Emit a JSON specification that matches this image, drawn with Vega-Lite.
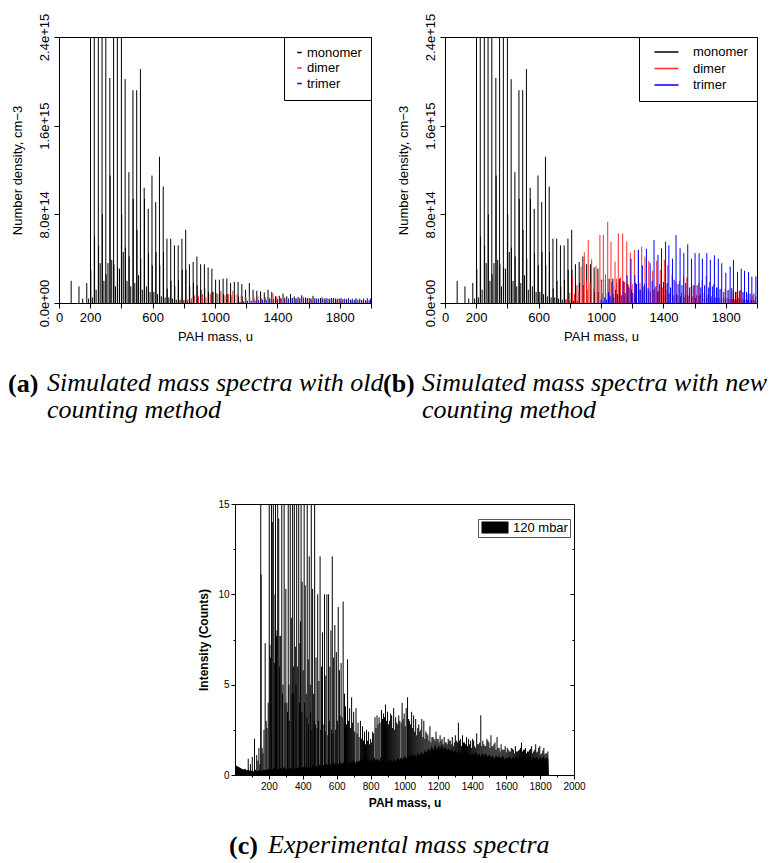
{
"$schema":"https://vega.github.io/schema/vega-lite/v6.json",
"background":"white",
"padding":{"left":7,"top":12,"right":0,"bottom":0},
"config":{"view":{"stroke":"black","strokeWidth":1},"font":"Liberation Sans",
"axis":{"grid":false,"domain":false,"tickColor":"black","labelColor":"black","titleColor":"black","labelFont":"Liberation Sans","titleFont":"Liberation Sans","tickWidth":1},
"legend":{"labelFont":"Liberation Sans","labelColor":"black"}},
"datasets":{
"mono":[{"m":78,"n":2.0e14},{"m":128,"n":1.5e14},{"m":152,"n":0.4e14},{"m":178,"n":1.8e14},{"m":190,"n":0.4e14},{"m":202,"n":40e14},{"m":204,"n":3.0e14},{"m":214,"n":0.5e14},{"m":226,"n":40e14},{"m":228,"n":6.0e14},{"m":238,"n":1.2e14},{"m":252,"n":40e14},{"m":254,"n":5.2e14},{"m":264,"n":3.6e14},{"m":276,"n":40e14},{"m":278,"n":8.0e14},{"m":288,"n":2.0e14},{"m":300,"n":40e14},{"m":302,"n":2.6e14},{"m":314,"n":3.6e14},{"m":326,"n":20.3e14},{"m":328,"n":11.5e14},{"m":338,"n":3.9e14},{"m":350,"n":40e14},{"m":352,"n":3.5e14},{"m":362,"n":1.5e14},{"m":374,"n":40e14},{"m":376,"n":3.2e14},{"m":388,"n":3.1e14},{"m":400,"n":40e14},{"m":402,"n":8.0e14},{"m":412,"n":4.6e14},{"m":424,"n":20.2e14},{"m":426,"n":5.0e14},{"m":436,"n":2.0e14},{"m":448,"n":11.8e14},{"m":450,"n":4.2e14},{"m":460,"n":1.5e14},{"m":474,"n":19.2e14},{"m":476,"n":9.4e14},{"m":486,"n":1.8e14},{"m":498,"n":19.2e14},{"m":500,"n":6.6e14},{"m":510,"n":2.5e14},{"m":522,"n":21.1e14},{"m":524,"n":4.0e14},{"m":534,"n":1.2e14},{"m":546,"n":10.4e14},{"m":548,"n":9.4e14},{"m":560,"n":1.5e14},{"m":572,"n":8.5e14},{"m":574,"n":4.5e14},{"m":584,"n":1.0e14},{"m":596,"n":11.5e14},{"m":598,"n":3.4e14},{"m":608,"n":1.0e14},{"m":620,"n":9.1e14},{"m":622,"n":4.6e14},{"m":632,"n":0.8e14},{"m":644,"n":13.2e14},{"m":646,"n":3.4e14},{"m":656,"n":0.6e14},{"m":668,"n":10.5e14},{"m":670,"n":4.6e14},{"m":680,"n":0.5e14},{"m":692,"n":5.8e14},{"m":694,"n":1.3e14},{"m":704,"n":0.5e14},{"m":716,"n":5.8e14},{"m":718,"n":2.0e14},{"m":728,"n":0.4e14},{"m":740,"n":5.2e14},{"m":742,"n":1.5e14},{"m":752,"n":0.3e14},{"m":764,"n":5.2e14},{"m":766,"n":2.1e14},{"m":776,"n":0.3e14},{"m":788,"n":5.8e14},{"m":790,"n":3.0e14},{"m":800,"n":0.25e14},{"m":812,"n":6.6e14},{"m":814,"n":3.0e14},{"m":824,"n":0.2e14},{"m":836,"n":3.5e14},{"m":838,"n":1.5e14},{"m":848,"n":0.2e14},{"m":860,"n":3.7e14},{"m":862,"n":1.8e14},{"m":884,"n":4.2e14},{"m":886,"n":1.6e14},{"m":908,"n":3.5e14},{"m":910,"n":1.2e14},{"m":932,"n":3.5e14},{"m":934,"n":1.3e14},{"m":956,"n":3.2e14},{"m":958,"n":1.0e14},{"m":980,"n":3.1e14},{"m":982,"n":1.0e14},{"m":1004,"n":2.1e14},{"m":1006,"n":0.9e14},{"m":1028,"n":2.1e14},{"m":1030,"n":0.9e14},{"m":1052,"n":2.2e14},{"m":1054,"n":0.8e14},{"m":1076,"n":2.2e14},{"m":1078,"n":0.8e14},{"m":1100,"n":1.8e14},{"m":1102,"n":0.7e14},{"m":1124,"n":1.9e14},{"m":1126,"n":0.7e14},{"m":1148,"n":1.9e14},{"m":1150,"n":0.6e14},{"m":1172,"n":1.7e14},{"m":1174,"n":0.6e14},{"m":1196,"n":1.2e14},{"m":1198,"n":0.5e14},{"m":1220,"n":1.8e14},{"m":1222,"n":0.5e14},{"m":1244,"n":1.2e14},{"m":1268,"n":1.1e14},{"m":1292,"n":1.05e14},{"m":1316,"n":0.95e14},{"m":1340,"n":1.2e14},{"m":1364,"n":1.0e14},{"m":1388,"n":0.6e14},{"m":1412,"n":0.65e14},{"m":1436,"n":0.85e14},{"m":1460,"n":0.6e14},{"m":1484,"n":0.8e14},{"m":1508,"n":0.6e14},{"m":1532,"n":0.55e14},{"m":1556,"n":0.7e14},{"m":1580,"n":0.5e14},{"m":1604,"n":0.45e14},{"m":1628,"n":0.65e14},{"m":1652,"n":0.4e14},{"m":1676,"n":0.45e14},{"m":1700,"n":0.4e14},{"m":1724,"n":0.4e14},{"m":1748,"n":0.45e14},{"m":1772,"n":0.4e14},{"m":1796,"n":0.4e14},{"m":1820,"n":0.35e14},{"m":1844,"n":0.35e14},{"m":1868,"n":0.3e14},{"m":1892,"n":0.3e14},{"m":1916,"n":0.3e14},{"m":1940,"n":0.28e14},{"m":1964,"n":0.25e14},{"m":1988,"n":0.25e14}],
"dimA":[{"m":776,"n":0.15e14},{"m":800,"n":0.27e14},{"m":826,"n":0.35e14},{"m":848,"n":0.45e14},{"m":869,"n":0.7e14},{"m":894,"n":0.6e14},{"m":920,"n":0.8e14},{"m":942,"n":0.5e14},{"m":970,"n":0.8e14},{"m":991,"n":1.0e14},{"m":1017,"n":0.8e14},{"m":1038,"n":1.1e14},{"m":1064,"n":0.7e14},{"m":1088,"n":0.8e14},{"m":1114,"n":1.1e14},{"m":1142,"n":0.8e14},{"m":1168,"n":0.7e14},{"m":1194,"n":0.55e14},{"m":1222,"n":0.6e14},{"m":1250,"n":0.5e14},{"m":1275,"n":0.6e14},{"m":1297,"n":0.45e14},{"m":1322,"n":0.55e14},{"m":1350,"n":0.5e14},{"m":1372,"n":0.85e14},{"m":1396,"n":0.6e14},{"m":1420,"n":0.45e14},{"m":1446,"n":0.5e14},{"m":1470,"n":0.4e14},{"m":1494,"n":0.45e14},{"m":1518,"n":0.4e14},{"m":1542,"n":0.35e14},{"m":1566,"n":0.55e14},{"m":1590,"n":0.35e14},{"m":1614,"n":0.35e14},{"m":1638,"n":0.3e14},{"m":1662,"n":0.35e14},{"m":1686,"n":0.55e14},{"m":1710,"n":0.3e14},{"m":1734,"n":0.3e14},{"m":1758,"n":0.3e14},{"m":1782,"n":0.25e14},{"m":1806,"n":0.3e14},{"m":1830,"n":0.25e14},{"m":1854,"n":0.25e14},{"m":1878,"n":0.2e14},{"m":1902,"n":0.25e14},{"m":1926,"n":0.2e14},{"m":1950,"n":0.2e14},{"m":1974,"n":0.2e14}],
"triA":[{"m":1160,"n":0.1e14},{"m":1184,"n":0.15e14},{"m":1208,"n":0.2e14},{"m":1232,"n":0.2e14},{"m":1256,"n":0.25e14},{"m":1280,"n":0.25e14},{"m":1304,"n":0.3e14},{"m":1328,"n":0.3e14},{"m":1352,"n":0.35e14},{"m":1376,"n":0.35e14},{"m":1400,"n":0.35e14},{"m":1424,"n":0.4e14},{"m":1448,"n":0.4e14},{"m":1472,"n":0.4e14},{"m":1496,"n":0.45e14},{"m":1520,"n":0.4e14},{"m":1544,"n":0.45e14},{"m":1568,"n":0.4e14},{"m":1592,"n":0.45e14},{"m":1616,"n":0.4e14},{"m":1640,"n":0.45e14},{"m":1664,"n":0.4e14},{"m":1688,"n":0.4e14},{"m":1712,"n":0.45e14},{"m":1736,"n":0.4e14},{"m":1760,"n":0.45e14},{"m":1784,"n":0.4e14},{"m":1808,"n":0.45e14},{"m":1832,"n":0.4e14},{"m":1856,"n":0.45e14},{"m":1880,"n":0.4e14},{"m":1904,"n":0.45e14},{"m":1928,"n":0.4e14},{"m":1952,"n":0.4e14},{"m":1976,"n":0.45e14},{"m":1996,"n":0.4e14}],
"dimB":[{"m":776,"n":0.36e14},{"m":788,"n":0.3e14},{"m":800,"n":0.9e14},{"m":818,"n":2.37e14},{"m":830,"n":0.8e14},{"m":846,"n":1.6e14},{"m":858,"n":1.0e14},{"m":872,"n":3.28e14},{"m":884,"n":1.5e14},{"m":893,"n":4.57e14},{"m":906,"n":2.0e14},{"m":918,"n":5.68e14},{"m":930,"n":1.8e14},{"m":940,"n":3.94e14},{"m":954,"n":1.3e14},{"m":968,"n":3.34e14},{"m":980,"n":2.2e14},{"m":993,"n":6.13e14},{"m":1003,"n":2.0e14},{"m":1015,"n":6.13e14},{"m":1029,"n":2.6e14},{"m":1043,"n":7.33e14},{"m":1053,"n":2.0e14},{"m":1064,"n":5.53e14},{"m":1077,"n":1.5e14},{"m":1090,"n":3.73e14},{"m":1100,"n":2.2e14},{"m":1111,"n":6.29e14},{"m":1125,"n":2.3e14},{"m":1139,"n":6.29e14},{"m":1152,"n":1.9e14},{"m":1165,"n":5.53e14},{"m":1176,"n":1.6e14},{"m":1188,"n":4.54e14},{"m":1200,"n":1.7e14},{"m":1214,"n":4.78e14},{"m":1226,"n":1.7e14},{"m":1239,"n":4.78e14},{"m":1250,"n":1.8e14},{"m":1261,"n":5.08e14},{"m":1271,"n":1.5e14},{"m":1282,"n":4.18e14},{"m":1294,"n":1.4e14},{"m":1306,"n":3.8e14},{"m":1318,"n":1.1e14},{"m":1331,"n":2.9e14},{"m":1344,"n":1.3e14},{"m":1357,"n":3.8e14},{"m":1368,"n":1.1e14},{"m":1380,"n":3.0e14},{"m":1393,"n":1.4e14},{"m":1406,"n":3.9e14},{"m":1417,"n":1.2e14},{"m":1428,"n":3.4e14},{"m":1442,"n":0.9e14},{"m":1456,"n":2.6e14},{"m":1468,"n":0.7e14},{"m":1481,"n":1.9e14},{"m":1492,"n":0.7e14},{"m":1503,"n":2.0e14},{"m":1516,"n":0.9e14},{"m":1529,"n":2.4e14},{"m":1540,"n":0.8e14},{"m":1550,"n":2.3e14},{"m":1564,"n":0.6e14},{"m":1578,"n":1.5e14},{"m":1588,"n":0.6e14},{"m":1599,"n":1.6e14},{"m":1612,"n":0.7e14},{"m":1627,"n":1.8e14},{"m":1637,"n":0.8e14},{"m":1648,"n":2.1e14},{"m":1661,"n":0.9e14},{"m":1674,"n":2.4e14},{"m":1685,"n":0.7e14},{"m":1696,"n":1.9e14},{"m":1709,"n":0.6e14},{"m":1722,"n":1.7e14},{"m":1733,"n":0.5e14},{"m":1745,"n":1.4e14},{"m":1758,"n":0.5e14},{"m":1771,"n":1.3e14},{"m":1784,"n":0.5e14},{"m":1797,"n":1.3e14},{"m":1808,"n":0.45e14},{"m":1820,"n":1.2e14},{"m":1833,"n":0.4e14},{"m":1846,"n":1.1e14},{"m":1856,"n":0.35e14},{"m":1867,"n":1.0e14},{"m":1881,"n":0.45e14},{"m":1895,"n":1.2e14},{"m":1905,"n":0.35e14},{"m":1916,"n":0.9e14},{"m":1929,"n":0.3e14},{"m":1942,"n":0.8e14},{"m":1956,"n":0.25e14},{"m":1970,"n":0.7e14},{"m":1980,"n":0.25e14},{"m":1991,"n":0.6e14}],
"triB":[{"m":1000,"n":0.3e14},{"m":1012,"n":0.1e14},{"m":1024,"n":0.5e14},{"m":1036,"n":0.3e14},{"m":1048,"n":1.0e14},{"m":1059,"n":0.6e14},{"m":1070,"n":1.9e14},{"m":1082,"n":0.5e14},{"m":1094,"n":1.2e14},{"m":1106,"n":0.8e14},{"m":1118,"n":2.2e14},{"m":1130,"n":0.7e14},{"m":1142,"n":2.0e14},{"m":1155,"n":0.9e14},{"m":1167,"n":2.5e14},{"m":1180,"n":1.4e14},{"m":1192,"n":4.0e14},{"m":1204,"n":0.9e14},{"m":1217,"n":2.5e14},{"m":1228,"n":1.7e14},{"m":1240,"n":4.8e14},{"m":1252,"n":1.2e14},{"m":1265,"n":3.4e14},{"m":1278,"n":1.7e14},{"m":1291,"n":4.9e14},{"m":1303,"n":1.3e14},{"m":1315,"n":3.6e14},{"m":1328,"n":2.0e14},{"m":1340,"n":5.68e14},{"m":1352,"n":1.5e14},{"m":1365,"n":4.33e14},{"m":1376,"n":1.7e14},{"m":1388,"n":4.93e14},{"m":1401,"n":1.9e14},{"m":1414,"n":5.53e14},{"m":1424,"n":1.8e14},{"m":1435,"n":5.2e14},{"m":1446,"n":1.4e14},{"m":1458,"n":4.0e14},{"m":1469,"n":2.1e14},{"m":1481,"n":6.13e14},{"m":1494,"n":1.7e14},{"m":1507,"n":4.93e14},{"m":1519,"n":1.6e14},{"m":1531,"n":4.5e14},{"m":1543,"n":1.8e14},{"m":1556,"n":5.3e14},{"m":1568,"n":1.4e14},{"m":1580,"n":4.0e14},{"m":1591,"n":1.6e14},{"m":1603,"n":4.5e14},{"m":1616,"n":1.6e14},{"m":1629,"n":4.5e14},{"m":1640,"n":1.4e14},{"m":1650,"n":4.0e14},{"m":1664,"n":1.6e14},{"m":1678,"n":4.5e14},{"m":1690,"n":1.4e14},{"m":1701,"n":3.9e14},{"m":1714,"n":1.5e14},{"m":1727,"n":4.3e14},{"m":1740,"n":1.4e14},{"m":1752,"n":4.0e14},{"m":1763,"n":1.25e14},{"m":1774,"n":3.58e14},{"m":1787,"n":1.0e14},{"m":1800,"n":2.73e14},{"m":1814,"n":1.15e14},{"m":1828,"n":3.3e14},{"m":1838,"n":1.35e14},{"m":1849,"n":3.9e14},{"m":1862,"n":1.0e14},{"m":1875,"n":2.8e14},{"m":1887,"n":1.1e14},{"m":1899,"n":3.1e14},{"m":1910,"n":1.0e14},{"m":1920,"n":2.9e14},{"m":1933,"n":1.0e14},{"m":1946,"n":2.8e14},{"m":1956,"n":0.85e14},{"m":1967,"n":2.37e14},{"m":1980,"n":0.85e14},{"m":1993,"n":2.4e14}],
"floorC":[{"m":4,"v":0.55},{"m":10,"v":0.5},{"m":20,"v":0.45},{"m":30,"v":0.4},{"m":40,"v":0.35},{"m":50,"v":0.3},{"m":60,"v":0.35},{"m":70,"v":0.25},{"m":80,"v":0.3},{"m":90,"v":0.2},{"m":100,"v":0.25},{"m":110,"v":0.2},{"m":120,"v":0.3},{"m":130,"v":0.2},{"m":140,"v":0.25},{"m":150,"v":0.3},{"m":160,"v":0.2},{"m":170,"v":0.3},{"m":180,"v":0.25},{"m":190,"v":0.3},{"m":200,"v":0.35},{"m":210,"v":0.25},{"m":220,"v":0.3},{"m":230,"v":0.4},{"m":240,"v":0.3},{"m":250,"v":0.35},{"m":260,"v":0.3},{"m":270,"v":0.4},{"m":280,"v":0.3},{"m":290,"v":0.45},{"m":300,"v":0.35},{"m":310,"v":0.3},{"m":320,"v":0.4},{"m":330,"v":0.35},{"m":340,"v":0.45},{"m":350,"v":0.3},{"m":360,"v":0.4},{"m":370,"v":0.35},{"m":380,"v":0.5},{"m":390,"v":0.35},{"m":400,"v":0.45},{"m":410,"v":0.4},{"m":420,"v":0.5},{"m":430,"v":0.35},{"m":440,"v":0.45},{"m":450,"v":0.4},{"m":460,"v":0.55},{"m":470,"v":0.4},{"m":480,"v":0.5},{"m":490,"v":0.45},{"m":500,"v":0.6},{"m":510,"v":0.45},{"m":520,"v":0.55},{"m":530,"v":0.5},{"m":540,"v":0.65},{"m":550,"v":0.5},{"m":560,"v":0.6},{"m":570,"v":0.55},{"m":580,"v":0.7},{"m":590,"v":0.55},{"m":600,"v":0.65},{"m":610,"v":0.6},{"m":620,"v":0.75},{"m":630,"v":0.6},{"m":640,"v":0.7},{"m":650,"v":0.65},{"m":660,"v":0.8},{"m":670,"v":0.6},{"m":680,"v":0.75},{"m":690,"v":0.7},{"m":700,"v":0.85},{"m":710,"v":0.65},{"m":720,"v":0.8},{"m":730,"v":0.7},{"m":740,"v":0.9},{"m":750,"v":0.7},{"m":760,"v":0.85},{"m":770,"v":0.75},{"m":780,"v":0.95},{"m":790,"v":0.7},{"m":800,"v":0.9},{"m":810,"v":0.75},{"m":820,"v":1.0},{"m":830,"v":0.8},{"m":840,"v":0.9},{"m":850,"v":0.75},{"m":860,"v":1.0},{"m":870,"v":0.8},{"m":880,"v":0.95},{"m":890,"v":0.7},{"m":900,"v":0.9},{"m":910,"v":0.75},{"m":920,"v":0.85},{"m":930,"v":0.7},{"m":940,"v":0.9},{"m":950,"v":0.75},{"m":960,"v":0.95},{"m":970,"v":0.8},{"m":980,"v":1.0},{"m":990,"v":0.85},{"m":1000,"v":1.05},{"m":1010,"v":0.9},{"m":1020,"v":1.1},{"m":1030,"v":0.95},{"m":1040,"v":1.2},{"m":1050,"v":1.0},{"m":1060,"v":1.15},{"m":1070,"v":1.0},{"m":1080,"v":1.25},{"m":1090,"v":1.05},{"m":1100,"v":1.3},{"m":1110,"v":1.1},{"m":1120,"v":1.4},{"m":1130,"v":1.2},{"m":1140,"v":1.5},{"m":1150,"v":1.3},{"m":1160,"v":1.6},{"m":1170,"v":1.35},{"m":1180,"v":1.7},{"m":1190,"v":1.4},{"m":1200,"v":1.65},{"m":1210,"v":1.45},{"m":1220,"v":1.7},{"m":1230,"v":1.4},{"m":1240,"v":1.6},{"m":1250,"v":1.35},{"m":1260,"v":1.5},{"m":1270,"v":1.3},{"m":1280,"v":1.45},{"m":1290,"v":1.25},{"m":1300,"v":1.4},{"m":1310,"v":1.2},{"m":1320,"v":1.35},{"m":1330,"v":1.15},{"m":1340,"v":1.3},{"m":1350,"v":1.1},{"m":1360,"v":1.25},{"m":1370,"v":1.1},{"m":1380,"v":1.3},{"m":1390,"v":1.05},{"m":1400,"v":1.25},{"m":1410,"v":1.1},{"m":1420,"v":1.3},{"m":1430,"v":1.05},{"m":1440,"v":1.2},{"m":1450,"v":1.0},{"m":1460,"v":1.25},{"m":1470,"v":1.05},{"m":1480,"v":1.2},{"m":1490,"v":1.0},{"m":1500,"v":1.15},{"m":1510,"v":0.95},{"m":1520,"v":1.1},{"m":1530,"v":0.9},{"m":1540,"v":1.1},{"m":1550,"v":0.95},{"m":1560,"v":1.05},{"m":1570,"v":0.9},{"m":1580,"v":1.1},{"m":1590,"v":0.85},{"m":1600,"v":1.0},{"m":1610,"v":0.9},{"m":1620,"v":1.05},{"m":1630,"v":0.85},{"m":1640,"v":1.0},{"m":1650,"v":0.9},{"m":1660,"v":1.1},{"m":1670,"v":0.85},{"m":1680,"v":1.05},{"m":1690,"v":0.9},{"m":1700,"v":1.1},{"m":1710,"v":0.85},{"m":1720,"v":1.0},{"m":1730,"v":0.9},{"m":1740,"v":1.05},{"m":1750,"v":0.85},{"m":1760,"v":1.0},{"m":1770,"v":0.9},{"m":1780,"v":1.05},{"m":1790,"v":0.85},{"m":1800,"v":1.0},{"m":1810,"v":0.9},{"m":1820,"v":1.05},{"m":1830,"v":0.85},{"m":1840,"v":1.0},{"m":1848,"v":0.9},{"m":1852,"v":0.0}],
"peaksC":[{"m":78,"v":0.9},{"m":91,"v":0.6},{"m":102,"v":1.0},{"m":115,"v":2.0},{"m":128,"v":1.1},{"m":135,"v":0.8},{"m":141,"v":1.5},{"m":147,"v":0.6},{"m":152,"v":18},{"m":154,"v":11.1},{"m":160,"v":1.5},{"m":165,"v":1.2},{"m":171,"v":2.5},{"m":178,"v":7.3},{"m":184,"v":3.0},{"m":189,"v":2.6},{"m":196,"v":4.0},{"m":202,"v":18},{"m":206,"v":7.2},{"m":210,"v":6.5},{"m":215,"v":18},{"m":220,"v":14.0},{"m":226,"v":18},{"m":232,"v":6.2},{"m":236,"v":10.0},{"m":239,"v":18},{"m":245,"v":7.7},{"m":248,"v":8.0},{"m":252,"v":18},{"m":258,"v":14.2},{"m":262,"v":6.0},{"m":265,"v":7.7},{"m":270,"v":7.7},{"m":276,"v":18},{"m":280,"v":4.5},{"m":283,"v":5.0},{"m":290,"v":18},{"m":295,"v":4.0},{"m":300,"v":10.3},{"m":306,"v":4.0},{"m":310,"v":3.5},{"m":314,"v":18},{"m":318,"v":5.0},{"m":320,"v":3.0},{"m":326,"v":18},{"m":332,"v":8.7},{"m":336,"v":4.5},{"m":340,"v":18},{"m":344,"v":6.0},{"m":346,"v":4.5},{"m":350,"v":18},{"m":356,"v":7.1},{"m":360,"v":5.0},{"m":364,"v":18},{"m":370,"v":6.0},{"m":376,"v":18},{"m":380,"v":4.0},{"m":383,"v":7.3},{"m":386,"v":8.5},{"m":390,"v":18},{"m":394,"v":3.5},{"m":396,"v":10.7},{"m":402,"v":5.8},{"m":408,"v":18},{"m":411,"v":4.0},{"m":414,"v":10.5},{"m":420,"v":4.5},{"m":424,"v":3.2},{"m":426,"v":18},{"m":432,"v":6.4},{"m":434,"v":2.8},{"m":438,"v":12.1},{"m":444,"v":5.0},{"m":446,"v":3.5},{"m":450,"v":18},{"m":454,"v":2.5},{"m":458,"v":10.3},{"m":464,"v":4.5},{"m":468,"v":3.0},{"m":470,"v":18},{"m":474,"v":2.8},{"m":478,"v":6.5},{"m":484,"v":2.6},{"m":488,"v":10.0},{"m":492,"v":3.0},{"m":495,"v":5.2},{"m":502,"v":12.1},{"m":506,"v":2.5},{"m":510,"v":6.0},{"m":516,"v":7.9},{"m":520,"v":2.8},{"m":528,"v":10.0},{"m":532,"v":2.4},{"m":536,"v":5.5},{"m":542,"v":10.0},{"m":548,"v":2.2},{"m":552,"v":10.0},{"m":556,"v":3.0},{"m":560,"v":6.0},{"m":566,"v":8.0},{"m":570,"v":2.5},{"m":574,"v":12.1},{"m":578,"v":2.3},{"m":582,"v":6.5},{"m":589,"v":8.3},{"m":594,"v":2.5},{"m":598,"v":6.8},{"m":604,"v":3.0},{"m":609,"v":9.3},{"m":616,"v":5.8},{"m":620,"v":3.3},{"m":626,"v":6.2},{"m":632,"v":3.2},{"m":638,"v":9.6},{"m":644,"v":3.0},{"m":646,"v":4.5},{"m":652,"v":3.8},{"m":658,"v":2.8},{"m":664,"v":6.4},{"m":670,"v":3.0},{"m":676,"v":3.7},{"m":682,"v":2.6},{"m":688,"v":4.3},{"m":694,"v":2.9},{"m":700,"v":3.5},{"m":706,"v":2.4},{"m":714,"v":3.7},{"m":720,"v":2.3},{"m":726,"v":2.9},{"m":732,"v":2.1},{"m":740,"v":3.0},{"m":746,"v":2.0},{"m":752,"v":2.7},{"m":758,"v":1.9},{"m":764,"v":2.4},{"m":770,"v":1.7},{"m":776,"v":2.5},{"m":782,"v":1.9},{"m":788,"v":2.4},{"m":794,"v":1.7},{"m":800,"v":2.0},{"m":806,"v":1.8},{"m":812,"v":2.4},{"m":818,"v":2.3},{"m":826,"v":3.2},{"m":832,"v":2.6},{"m":838,"v":3.3},{"m":844,"v":2.8},{"m":850,"v":3.2},{"m":856,"v":2.9},{"m":864,"v":3.6},{"m":870,"v":3.1},{"m":876,"v":3.4},{"m":882,"v":3.2},{"m":888,"v":3.9},{"m":894,"v":3.0},{"m":900,"v":3.5},{"m":906,"v":2.8},{"m":912,"v":3.0},{"m":918,"v":3.4},{"m":924,"v":3.3},{"m":930,"v":2.6},{"m":936,"v":3.7},{"m":942,"v":2.5},{"m":948,"v":3.2},{"m":954,"v":2.9},{"m":960,"v":2.8},{"m":966,"v":3.3},{"m":972,"v":3.0},{"m":980,"v":2.9},{"m":986,"v":4.0},{"m":992,"v":3.1},{"m":998,"v":3.4},{"m":1004,"v":2.7},{"m":1010,"v":3.7},{"m":1018,"v":4.3},{"m":1024,"v":3.1},{"m":1030,"v":3.0},{"m":1036,"v":2.8},{"m":1042,"v":3.5},{"m":1048,"v":2.6},{"m":1054,"v":3.3},{"m":1060,"v":2.4},{"m":1066,"v":3.1},{"m":1072,"v":2.2},{"m":1078,"v":2.6},{"m":1084,"v":2.8},{"m":1090,"v":2.4},{"m":1096,"v":2.5},{"m":1102,"v":3.1},{"m":1108,"v":2.1},{"m":1114,"v":3.0},{"m":1120,"v":2.0},{"m":1126,"v":2.4},{"m":1132,"v":2.3},{"m":1138,"v":2.2},{"m":1144,"v":1.9},{"m":1150,"v":2.7},{"m":1156,"v":1.8},{"m":1162,"v":2.1},{"m":1168,"v":2.1},{"m":1174,"v":2.0},{"m":1180,"v":1.9},{"m":1186,"v":2.4},{"m":1192,"v":2.0},{"m":1198,"v":2.0},{"m":1204,"v":1.8},{"m":1210,"v":2.2},{"m":1216,"v":1.9},{"m":1222,"v":2.0},{"m":1228,"v":1.7},{"m":1234,"v":2.1},{"m":1240,"v":1.8},{"m":1246,"v":1.8},{"m":1252,"v":1.7},{"m":1258,"v":2.0},{"m":1264,"v":1.9},{"m":1270,"v":1.9},{"m":1276,"v":1.7},{"m":1282,"v":2.1},{"m":1288,"v":1.6},{"m":1294,"v":1.8},{"m":1300,"v":2.2},{"m":1306,"v":1.9},{"m":1312,"v":1.8},{"m":1318,"v":2.9},{"m":1324,"v":1.9},{"m":1330,"v":2.0},{"m":1336,"v":1.6},{"m":1342,"v":2.2},{"m":1348,"v":1.8},{"m":1354,"v":1.8},{"m":1360,"v":1.7},{"m":1366,"v":2.1},{"m":1372,"v":1.6},{"m":1378,"v":2.0},{"m":1384,"v":1.7},{"m":1390,"v":1.9},{"m":1396,"v":1.5},{"m":1402,"v":2.0},{"m":1408,"v":1.9},{"m":1414,"v":1.6},{"m":1420,"v":1.5},{"m":1426,"v":2.3},{"m":1432,"v":1.7},{"m":1438,"v":1.7},{"m":1444,"v":1.8},{"m":1450,"v":3.3},{"m":1456,"v":1.6},{"m":1462,"v":1.9},{"m":1468,"v":1.7},{"m":1474,"v":1.6},{"m":1480,"v":1.6},{"m":1486,"v":2.0},{"m":1492,"v":1.9},{"m":1498,"v":1.8},{"m":1504,"v":1.5},{"m":1510,"v":2.2},{"m":1516,"v":1.6},{"m":1522,"v":1.6},{"m":1528,"v":1.7},{"m":1534,"v":1.8},{"m":1540,"v":1.4},{"m":1546,"v":2.1},{"m":1552,"v":1.5},{"m":1558,"v":1.5},{"m":1564,"v":1.3},{"m":1570,"v":1.7},{"m":1576,"v":1.4},{"m":1582,"v":1.4},{"m":1588,"v":1.4},{"m":1594,"v":1.6},{"m":1600,"v":1.25},{"m":1606,"v":1.5},{"m":1612,"v":1.4},{"m":1618,"v":1.3},{"m":1624,"v":1.3},{"m":1630,"v":1.5},{"m":1636,"v":1.45},{"m":1642,"v":1.4},{"m":1648,"v":1.2},{"m":1654,"v":1.6},{"m":1660,"v":1.3},{"m":1666,"v":1.3},{"m":1672,"v":1.35},{"m":1678,"v":1.4},{"m":1684,"v":1.5},{"m":1690,"v":1.8},{"m":1696,"v":1.3},{"m":1702,"v":1.4},{"m":1708,"v":1.4},{"m":1714,"v":1.5},{"m":1720,"v":1.2},{"m":1726,"v":1.3},{"m":1732,"v":1.3},{"m":1738,"v":1.4},{"m":1744,"v":1.45},{"m":1750,"v":1.6},{"m":1756,"v":1.2},{"m":1762,"v":1.3},{"m":1768,"v":1.4},{"m":1774,"v":1.7},{"m":1780,"v":1.25},{"m":1786,"v":1.3},{"m":1792,"v":1.5},{"m":1798,"v":1.6},{"m":1804,"v":1.15},{"m":1810,"v":1.2},{"m":1816,"v":1.35},{"m":1822,"v":1.5},{"m":1828,"v":1.15},{"m":1834,"v":1.2},{"m":1840,"v":1.2},{"m":1846,"v":1.3}]
},
"resolve":{"scale":{"color":"independent"},"legend":{"color":"independent"}},
"spacing":74,
"vconcat":[
{"hconcat":[
{"width":312,"height":266,
"title":{"text":"(a)","subtitle":["\u200b\u00a0\u00a0\u00a0\u00a0\u00a0\u00a0Simulated mass spectra with old","\u200b\u00a0\u00a0\u00a0\u00a0\u00a0\u00a0counting method"],"orient":"bottom","anchor":"start","frame":"group","dx":-51,"offset":28,"limit":1000,"font":"Liberation Serif","fontSize":26,"fontWeight":"bold","fontStyle":"normal","color":"black","lineHeight":27,"subtitleFont":"Liberation Serif","subtitleFontSize":26,"subtitleFontStyle":"italic","subtitleFontWeight":"normal","subtitleColor":"black","subtitleLineHeight":27,"subtitlePadding":-27},
"encoding":{
"x":{"field":"m","type":"quantitative","scale":{"domain":[0,2000],"nice":false},"axis":{"title":"PAH mass, u","values":[0,200,400,600,800,1000,1200,1400,1600,1800,2000],"labelExpr":"datum.value == 0 || datum.value % 400 == 200 ? datum.label : ''","format":"d","labelFontSize":13,"titleFontSize":13,"titleFontWeight":"normal","tickSize":5,"labelPadding":3,"titlePadding":6,"labelFlush":false,"labelOverlap":false}},
"y":{"field":"n","type":"quantitative","scale":{"domain":[0,2.4e15],"nice":false},"axis":{"title":"Number density, cm\u22123","values":[0,8e14,1.6e15,2.4e15],"labelExpr":"datum.value == 0 ? '0.0e+00' : format(datum.value, '.1e')","labelAngle":-90,"labelAlign":"center","labelBaseline":"bottom","labelFontSize":13,"titleFontSize":13,"titleFontWeight":"normal","tickSize":5,"labelPadding":3,"titlePadding":14,"labelFlush":false,"labelOverlap":false}},
"y2":{"datum":0}},
"layer":[
{"data":{"name":"mono"},"mark":{"type":"rule","clip":true,"strokeWidth":1},"encoding":{"color":{"datum":"monomer","type":"nominal","scale":{"domain":["monomer","dimer","trimer"],"range":["#000000","#ff2a2a","#0000ff"]},"legend":{"orient":"top-right","offset":0,"title":null,"strokeColor":"black","fillColor":"white","padding":9,"symbolType":"stroke","symbolSize":20,"symbolStrokeWidth":1.5,"symbolOffset":0,"labelOffset":1,"labelFontSize":13,"rowPadding":1.5}}}},
{"data":{"name":"dimA"},"mark":{"type":"rule","clip":true,"strokeWidth":1},"encoding":{"color":{"datum":"dimer","type":"nominal"}}},
{"data":{"name":"triA"},"mark":{"type":"rule","clip":true,"strokeWidth":1},"encoding":{"color":{"datum":"trimer","type":"nominal"}}}
]},
{"width":312,"height":266,
"title":{"text":"(b)","subtitle":["\u200b\u00a0\u00a0\u00a0\u00a0\u00a0\u00a0Simulated mass spectra with new","\u200b\u00a0\u00a0\u00a0\u00a0\u00a0\u00a0counting method"],"orient":"bottom","anchor":"start","frame":"group","dx":-62,"offset":28,"limit":1000,"font":"Liberation Serif","fontSize":26,"fontWeight":"bold","fontStyle":"normal","color":"black","lineHeight":27,"subtitleFont":"Liberation Serif","subtitleFontSize":26,"subtitleFontStyle":"italic","subtitleFontWeight":"normal","subtitleColor":"black","subtitleLineHeight":27,"subtitlePadding":-27},
"encoding":{
"x":{"field":"m","type":"quantitative","scale":{"domain":[0,2000],"nice":false},"axis":{"title":"PAH mass, u","values":[0,200,400,600,800,1000,1200,1400,1600,1800,2000],"labelExpr":"datum.value == 0 || datum.value % 400 == 200 ? datum.label : ''","format":"d","labelFontSize":13,"titleFontSize":13,"titleFontWeight":"normal","tickSize":5,"labelPadding":3,"titlePadding":6,"labelFlush":false,"labelOverlap":false}},
"y":{"field":"n","type":"quantitative","scale":{"domain":[0,2.4e15],"nice":false},"axis":{"title":"Number density, cm\u22123","values":[0,8e14,1.6e15,2.4e15],"labelExpr":"datum.value == 0 ? '0.0e+00' : format(datum.value, '.1e')","labelAngle":-90,"labelAlign":"center","labelBaseline":"bottom","labelFontSize":13,"titleFontSize":13,"titleFontWeight":"normal","tickSize":5,"labelPadding":3,"titlePadding":14,"labelFlush":false,"labelOverlap":false}},
"y2":{"datum":0}},
"layer":[
{"data":{"name":"mono"},"mark":{"type":"rule","clip":true,"strokeWidth":1},"encoding":{"color":{"datum":"monomer","type":"nominal","scale":{"domain":["monomer","dimer","trimer"],"range":["#000000","#ff2a2a","#0000ff"]},"legend":{"orient":"top-right","offset":0,"title":null,"strokeColor":"black","fillColor":"white","padding":8.5,"symbolType":"M-3,0H3","symbolSize":64,"symbolStrokeWidth":1.5,"symbolOffset":12.5,"labelOffset":20,"labelFontSize":13,"rowPadding":2.5}}}},
{"data":{"name":"dimB"},"mark":{"type":"rule","clip":true,"strokeWidth":1},"encoding":{"color":{"datum":"dimer","type":"nominal"}}},
{"data":{"name":"triB"},"mark":{"type":"rule","clip":true,"strokeWidth":1},"encoding":{"color":{"datum":"trimer","type":"nominal"}}}
]}
],"spacing":74,"bounds":"flush","resolve":{"scale":{"color":"independent"},"legend":{"color":"independent"}}},
{"hconcat":[
{"width":1,"height":1,"data":{"values":[]},"mark":"point","view":{"stroke":null}},
{"width":339,"height":271,
"title":{"text":"(c)","subtitle":"\u200b\u00a0\u00a0\u00a0\u00a0\u00a0\u00a0Experimental mass spectra","orient":"bottom","anchor":"start","frame":"group","dx":-6,"offset":25,"limit":1000,"font":"Liberation Serif","fontSize":26,"fontWeight":"bold","fontStyle":"normal","color":"black","lineHeight":27,"subtitleFont":"Liberation Serif","subtitleFontSize":26,"subtitleFontStyle":"italic","subtitleFontWeight":"normal","subtitleColor":"black","subtitleLineHeight":27,"subtitlePadding":-27},
"encoding":{"x":{"field":"m","type":"quantitative","scale":{"domain":[0,2000],"nice":false},"axis":{"title":"PAH mass, u","values":[100,200,300,400,500,600,700,800,900,1000,1100,1200,1300,1400,1500,1600,1700,1800,1900,2000],"labelExpr":"datum.value % 200 == 0 ? datum.label : ''","format":"d","tickSize":{"condition":{"test":"datum.value % 200 == 0","value":4},"value":2},"labelFontSize":10,"titleFontSize":12,"titleFontWeight":"bold","labelPadding":2,"titlePadding":6,"labelFlush":false,"labelOverlap":false}}},
"layer":[
{"data":{"name":"floorC"},"mark":{"type":"area","clip":true},"encoding":{"y":{"field":"v","type":"quantitative","scale":{"domain":[0,15],"nice":false},"axis":{"title":"Intensity (Counts)","values":[0,2.5,5,7.5,10,12.5,15],"labelExpr":"datum.value % 5 == 0 ? datum.label : ''","tickSize":{"condition":{"test":"datum.value % 5 == 0","value":4},"value":2},"labelFontSize":10,"titleFontSize":12,"titleFontWeight":"bold","labelPadding":2,"titlePadding":7,"labelFlush":false,"labelOverlap":false}},"color":{"datum":"120 mbar","type":"nominal","scale":{"range":["#000000"]},"legend":{"orient":"none","legendX":243,"legendY":15,"title":null,"strokeColor":"#555555","fillColor":"white","padding":2,"symbolType":"M-2.25,-1H2.25V1H-2.25Z","symbolSize":144,"symbolStrokeWidth":0,"symbolOffset":8.5,"labelOffset":11.5,"labelFontSize":13}}}},
{"data":{"name":"peaksC"},"mark":{"type":"rule","clip":true,"strokeWidth":1},"encoding":{"y":{"field":"v","type":"quantitative","axis":null},"y2":{"datum":0},"color":{"datum":"120 mbar","type":"nominal"}}},
{"data":{"name":"floorC"},"mark":{"type":"rule","opacity":0},"encoding":{"y":{"field":"v","type":"quantitative","axis":{"orient":"right","labels":false,"title":null,"values":[0,2.5,5,7.5,10,12.5,15],"tickSize":{"condition":{"test":"datum.value % 5 == 0","value":-4},"value":-2}}}}}
],
"resolve":{"axis":{"y":"independent"}}}
],"spacing":175,"bounds":"flush","resolve":{"scale":{"color":"independent"},"legend":{"color":"independent"}}}
]
}
